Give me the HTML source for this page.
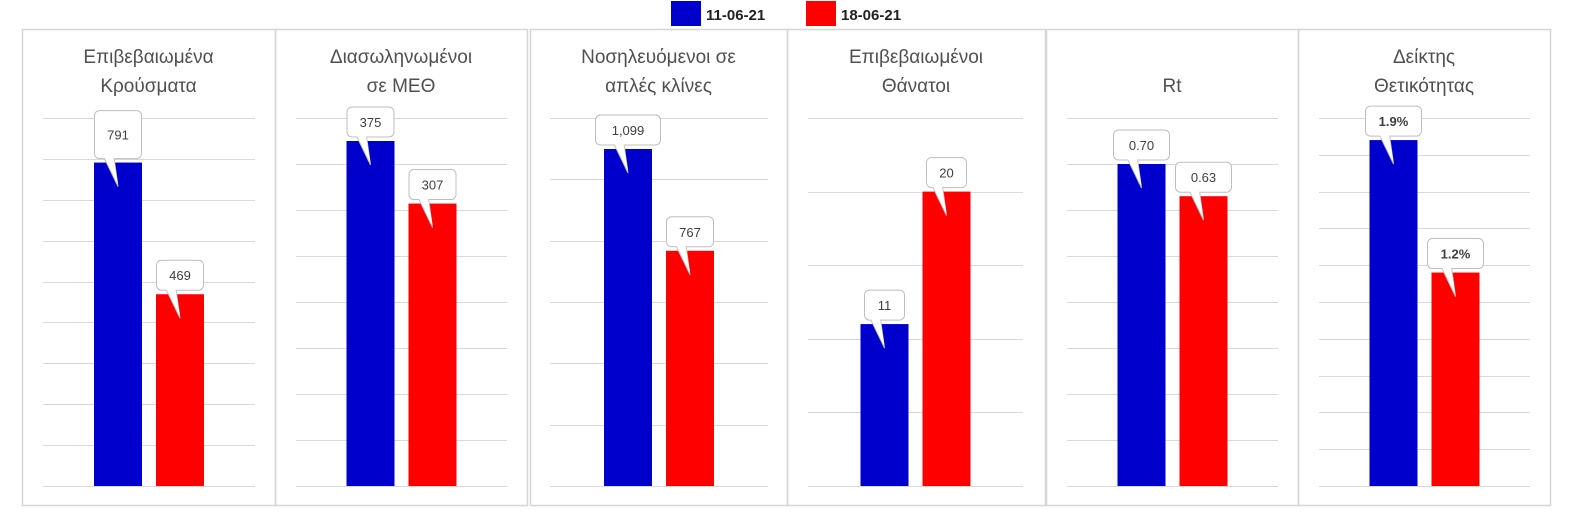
<!DOCTYPE html>
<html><head><meta charset="utf-8"><style>
html,body{margin:0;padding:0;background:#fff;}
svg{display:block;font-family:"Liberation Sans","DejaVu Sans",sans-serif;}
</style></head><body>
<svg id="chart" width="1592" height="527" viewBox="0 0 1592 527" xmlns="http://www.w3.org/2000/svg">
<g>
<rect x="671" y="1" width="30" height="25" fill="#0000CC"/>
<text x="706" y="20" font-size="15" font-weight="bold" fill="#222">11-06-21</text>
<rect x="806" y="1" width="30" height="25" fill="#FF0000"/>
<text x="841" y="20" font-size="15" font-weight="bold" fill="#222">18-06-21</text>
</g>
<g id="panels"></g>
</svg>
<script>
const titles1 = ["Επιβεβαιωμένα","Διασωληνωμένοι","Νοσηλευόμενοι σε","Επιβεβαιωμένοι","Rt","Δείκτης"];
const titles2 = ["Κρούσματα","σε ΜΕΘ","απλές κλίνες","Θάνατοι","","Θετικότητας"];
const seriesA = [791, 375, 1099, 11, 0.70, 1.88];
const seriesB = [469, 307, 767, 20, 0.63, 1.16];
const labelsA = ["791","375","1,099","11","0.70","1.9%"];
const labelsB = ["469","307","767","20","0.63","1.2%"];
const axisMax = [900, 400, 1200, 25, 0.8, 2.0];
const axisSteps = [9, 8, 6, 5, 8, 10];

const NS = "http://www.w3.org/2000/svg";
const panelBox = [[22,275],[275,527],[530,787],[787,1045],[1046,1298],[1298,1550]];
const plotBox = [[43,255],[296,507],[550,768],[808,1023],[1067,1278],[1319,1530]];
const TOP = 29, BOT = 505, Y0 = 486, Y1 = 118;
const root = document.getElementById('panels');
function mk(tag, attrs, parent){const e=document.createElementNS(NS,tag);for(const k in attrs)e.setAttribute(k,attrs[k]);parent.appendChild(e);return e;}
function yScale(i,v){return Y0-(Y0-Y1)*v/axisMax[i];}

for(let i=0;i<titles1.length;i++){
  const g=mk('g',{},root);
  
  
  const [px0,px1]=panelBox[i];
  const fr=mk('rect',{x:px0+0.5,y:TOP+0.5,width:px1-px0,height:BOT-TOP,fill:'none',stroke:'#D6D6D6','stroke-width':1.5},g);
  
  
  const [x0,x1]=plotBox[i];
  const cx=(x0+x1)/2;
  for(let k=0;k<=axisSteps[i];k++){
    const y=Math.round(yScale(i,axisMax[i]*k/axisSteps[i]))+0.5;
    const gl=mk('line',{x1:x0,x2:x1,y1:y,y2:y,stroke:'#D9D9D9','stroke-width':1},g);
    
    
  }
  const t=mk('text',{x:(px0+px1)/2,'text-anchor':'middle','font-size':19,fill:'#505050'},g);
  
  
  if(titles2[i]){
    mk('tspan',{x:(px0+px1)/2,y:63},t).textContent=titles1[i];
    mk('tspan',{x:(px0+px1)/2,y:92},t).textContent=titles2[i];
  } else {
    mk('tspan',{x:(px0+px1)/2,y:92},t).textContent=titles1[i];
  }
  const bars=[[seriesA[i],labelsA[i],'#0000CC',cx-55,'bar-11-06-21'],[seriesB[i],labelsB[i],'#FF0000',cx+7,'bar-18-06-21']];
  bars.forEach(([v,lab,col,bx,nm])=>{
    const top=yScale(i,v);
    const b=mk('rect',{x:bx,y:top,width:48,height:Y0-top,fill:col},g);
    
    
    const bc=bx+24;
    const bh=(i===0&&nm==='bar-11-06-21')?48:30;
    const bw=Math.max(40,lab.length*9+20);
    const bb=top-4;
    const cg=mk('g',{},g);
    
    
    mk('path',{d:`M${bc-14},${bb-1} L${bc-4},${bb-1} L${bc},${top+24} Z`,fill:'#fff',stroke:'#BFBFBF','stroke-width':1},cg);
    mk('rect',{x:bc-bw/2,y:bb-bh,width:bw,height:bh,rx:5,fill:'#fff',stroke:'#BFBFBF','stroke-width':1},cg);
    mk('path',{d:`M${bc-13.5},${bb-1} L${bc-4.5},${bb-1} L${bc},${top+22} Z`,fill:'#fff'},cg);
    const tx=mk('text',{x:bc,y:bb-bh/2+5,'text-anchor':'middle','font-size':13,fill:'#404040','font-weight':i===5?'bold':'normal'},cg);
    tx.textContent=lab;
  });
}
</script>
</body></html>
